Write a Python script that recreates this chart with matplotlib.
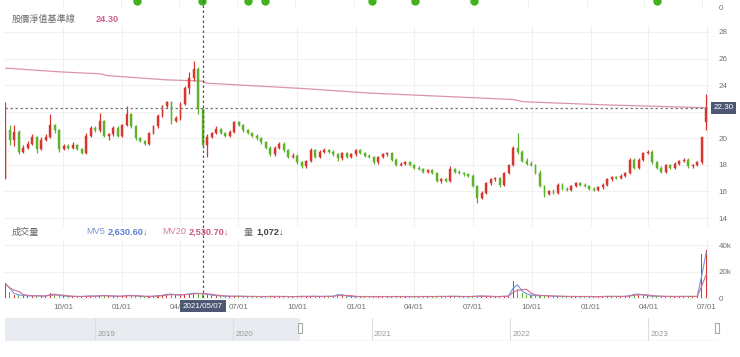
import matplotlib
matplotlib.use('Agg')
import matplotlib.pyplot as plt
import matplotlib.dates as mdates
import matplotlib.transforms as mtransforms
from matplotlib.lines import Line2D
import numpy as np
import pandas as pd

plt.rcParams['font.family'] = ['Liberation Sans', 'Noto Sans CJK TC', 'DejaVu Sans']

# ---------------- data (weekly candles) ----------------
week_start = '2020-07-03'
opens = [17.0, 20.6, 19.9, 20.5, 19.0, 19.3, 19.6, 20.1, 19.2, 19.9,
         20.1, 21.0, 20.6, 19.2, 19.4, 19.3, 19.5, 19.2, 18.9, 20.2,
         20.8, 20.6, 21.3, 20.2, 20.3, 20.8, 20.2, 21.0, 21.8, 20.9,
         20.0, 19.8, 19.6, 20.4, 20.9, 21.7, 22.4, 22.7, 21.3, 21.5,
         22.6, 23.8, 24.5, 25.2, 22.2, 19.5, 20.1, 20.4, 20.7, 20.4,
         20.2, 20.5, 21.2, 21.0, 20.6, 20.4, 20.2, 20.0, 19.7, 19.3,
         18.8, 19.3, 19.6, 19.1, 18.6, 18.7, 18.2, 17.9, 18.3, 19.1,
         18.6, 19.0, 19.1, 19.0, 18.8, 18.5, 18.9, 18.6, 18.8, 19.1,
         18.9, 18.7, 18.6, 18.2, 18.6, 18.8, 18.9, 18.4, 18.0, 18.1,
         18.2, 18.0, 17.8, 17.7, 17.5, 17.6, 17.4, 16.8, 16.9, 16.8,
         17.7, 17.5, 17.4, 17.3, 17.2, 16.4, 15.5, 15.9, 16.6, 16.9,
         17.0, 16.5, 17.4, 18.0, 19.3, 19.0, 18.3, 18.1, 18.0, 17.4,
         16.4, 15.8, 16.0, 15.9, 16.5, 16.2, 16.1, 16.4, 16.6, 16.5,
         16.4, 16.2, 16.1, 16.3, 16.5, 16.9, 17.1, 17.0, 17.2, 17.4,
         18.4, 17.8, 18.4, 18.9, 19.0, 18.2, 17.8, 17.5, 18.0, 17.8,
         18.1, 18.3, 18.4, 17.9, 18.0, 18.2, 21.2]
highs = [22.7, 21.0, 21.0, 20.6, 19.5, 19.8, 20.3, 20.2, 20.1, 20.3,
         21.8, 21.1, 20.7, 19.6, 19.6, 19.7, 19.6, 19.3, 20.4, 20.9,
         20.9, 21.9, 21.4, 20.4, 20.9, 20.9, 21.1, 22.4, 21.9, 21.0,
         20.1, 19.9, 20.5, 21.0, 21.8, 22.5, 22.8, 22.8, 21.7, 22.7,
         23.9, 25.0, 25.8, 25.4, 22.3, 20.3, 20.5, 20.9, 20.8, 20.5,
         20.6, 21.3, 21.3, 21.1, 20.7, 20.5, 20.3, 20.1, 19.8, 19.4,
         19.4, 19.7, 19.7, 19.2, 18.9, 18.8, 18.3, 18.4, 19.3, 19.2,
         19.1, 19.3, 19.2, 19.1, 18.9, 19.0, 19.0, 18.9, 19.2, 19.2,
         19.0, 18.8, 18.7, 18.7, 18.9, 19.0, 19.0, 18.5, 18.2, 18.3,
         18.3, 18.1, 17.9, 17.8, 17.7, 17.7, 17.5, 17.0, 17.0, 17.9,
         17.8, 17.6, 17.5, 17.4, 17.3, 16.5, 16.0, 16.7, 17.0, 17.1,
         17.1, 17.5, 18.1, 19.4, 20.4, 19.1, 18.5, 18.3, 18.1, 17.6,
         16.5, 16.1, 16.2, 16.6, 16.6, 16.3, 16.5, 16.7, 16.7, 16.6,
         16.5, 16.3, 16.4, 16.6, 17.0, 17.2, 17.2, 17.3, 17.5, 18.5,
         18.5, 18.5, 19.0, 19.1, 19.1, 18.3, 17.9, 18.1, 18.1, 18.2,
         18.4, 18.5, 18.5, 18.1, 18.3, 20.1, 23.3]
lows = [16.9, 19.5, 19.4, 18.8, 18.9, 19.2, 19.5, 18.9, 19.1, 19.8,
        20.0, 20.4, 19.0, 19.1, 19.2, 19.2, 19.1, 18.8, 18.8, 20.1,
        20.5, 20.5, 20.1, 19.9, 20.2, 20.1, 20.1, 20.9, 20.8, 19.9,
        19.7, 19.5, 19.5, 20.3, 20.8, 21.6, 22.3, 21.1, 21.2, 21.4,
        22.5, 23.3, 24.3, 21.8, 19.3, 18.6, 20.0, 20.3, 20.3, 20.1,
        20.1, 20.4, 20.9, 20.5, 20.3, 20.1, 19.9, 19.6, 19.2, 18.7,
        18.7, 19.2, 19.0, 18.5, 18.5, 18.1, 17.8, 17.8, 18.2, 18.5,
        18.5, 18.9, 18.9, 18.7, 18.3, 18.4, 18.5, 18.5, 18.7, 18.8,
        18.6, 18.5, 18.1, 18.1, 18.5, 18.7, 18.3, 17.9, 17.9, 18.0,
        17.9, 17.7, 17.6, 17.4, 17.4, 17.3, 16.7, 16.6, 16.7, 16.7,
        17.4, 17.3, 17.2, 17.1, 16.3, 15.1, 15.4, 15.8, 16.5, 16.8,
        16.3, 16.4, 17.3, 17.9, 18.8, 18.2, 18.0, 17.9, 17.3, 16.3,
        15.6, 15.7, 15.8, 15.8, 16.1, 16.0, 16.0, 16.3, 16.4, 16.3,
        16.1, 16.0, 16.0, 16.2, 16.4, 16.8, 16.9, 16.9, 17.1, 17.3,
        17.7, 17.7, 18.3, 18.8, 18.1, 17.7, 17.4, 17.4, 17.7, 17.7,
        18.0, 18.2, 17.8, 17.8, 17.9, 18.1, 20.6]
closes = [20.6, 19.9, 20.5, 19.0, 19.3, 19.6, 20.1, 19.2, 19.9, 20.1,
          21.0, 20.6, 19.2, 19.4, 19.3, 19.5, 19.2, 18.9, 20.2, 20.8,
          20.6, 21.3, 20.2, 20.3, 20.8, 20.2, 21.0, 21.8, 20.9, 20.0,
          19.8, 19.6, 20.4, 20.9, 21.7, 22.4, 22.7, 21.3, 21.5, 22.6,
          23.8, 24.5, 25.2, 22.2, 19.5, 20.1, 20.4, 20.7, 20.4, 20.2,
          20.5, 21.2, 21.0, 20.6, 20.4, 20.2, 20.0, 19.7, 19.3, 18.8,
          19.3, 19.6, 19.1, 18.6, 18.7, 18.2, 17.9, 18.3, 19.1, 18.6,
          19.0, 19.1, 19.0, 18.8, 18.5, 18.9, 18.6, 18.8, 19.1, 18.9,
          18.7, 18.6, 18.2, 18.6, 18.8, 18.9, 18.4, 18.0, 18.1, 18.2,
          18.0, 17.8, 17.7, 17.5, 17.6, 17.4, 16.8, 16.9, 16.8, 17.7,
          17.5, 17.4, 17.3, 17.2, 16.4, 15.5, 15.9, 16.6, 16.9, 17.0,
          16.5, 17.4, 18.0, 19.3, 19.0, 18.3, 18.1, 18.0, 17.4, 16.4,
          15.8, 16.0, 15.9, 16.5, 16.2, 16.1, 16.4, 16.6, 16.5, 16.4,
          16.2, 16.1, 16.3, 16.5, 16.9, 17.1, 17.0, 17.2, 17.4, 18.4,
          17.8, 18.4, 18.9, 19.0, 18.2, 17.8, 17.5, 18.0, 17.8, 18.1,
          18.3, 18.4, 17.9, 18.0, 18.2, 20.1, 22.3]
volumes = [11000, 4200, 2600, 2100, 1800, 1500, 1600, 1700, 1400, 1500,
           3500, 2400, 1700, 1300, 1200, 1200, 1100, 1200, 1500, 1600,
           1300, 2000, 1900, 1400, 1300, 1200, 1500, 2300, 1800, 1400,
           1200, 1100, 1300, 1500, 1900, 2300, 3200, 2700, 2000, 2400,
           2900, 3400, 3800, 3300, 3000, 2500, 2000, 1600, 1400, 1300,
           1200, 1500, 1300, 1200, 1100, 1200, 1100, 1000, 1200, 1300,
           1100, 1200, 1100, 1000, 1100, 1200, 1300, 1100, 1400, 1200,
           1100, 1300, 1200, 1500, 3200, 1800, 1200, 1100, 1000, 1100,
           1200, 1100, 1000, 1100, 1200, 1000, 1100, 1200, 1000, 1100,
           1000, 1100, 1000, 1200, 1100, 1000, 1300, 1200, 1100, 1400,
           1200, 1100, 1000, 1100, 1300, 1600, 1400, 1200, 1100, 1000,
           1200, 1400, 1600, 13000, 7000, 3600, 2600, 1900, 1600, 2000,
           1700, 1400, 1200, 1300, 1100, 1200, 1100, 1000, 1100, 1200,
           1100, 1000, 1100, 1200, 1300, 1200, 1100, 1200, 1400, 2200,
           3400, 2600, 1800, 1500, 1400, 1300, 1200, 1100, 1200, 1100,
           1200, 1300, 1100, 1200, 1300, 33000, 36000]

# 股價淨值基準線 (book-value reference line)
base_dates = ['2020-07-03', '2020-09-26', '2020-11-28', '2020-12-09', '2021-03-10',
              '2021-04-28', '2021-05-07', '2021-05-12', '2021-10-08', '2022-01-22',
              '2022-09-02', '2022-09-18', '2023-01-20', '2023-06-30']
base_values = [25.28, 25.0, 24.85, 24.72, 24.4, 24.32, 24.30, 24.15, 23.75, 23.4,
               22.92, 22.75, 22.52, 22.3]

# markers of the panel above (only their lower edge is visible)
top_marker_dates = ['2021-01-26', '2021-05-07', '2021-07-19', '2021-08-15',
                    '2022-01-30', '2022-04-07', '2022-07-09', '2023-04-22']

price_ticks = [14, 16, 18, 20, 22, 24, 26, 28]
price_tick_labels = ['14', '16', '18', '20', '', '24', '26', '28']
vol_ticks = [0, 20000, 40000]
vol_tick_labels = ['0', '20k', '40k']
quarter_ticks = ['2020-10-01', '2021-01-01', '2021-04-01', '2021-07-01', '2021-10-01',
                 '2022-01-01', '2022-04-01', '2022-07-01', '2022-10-01', '2023-01-01',
                 '2023-04-01', '2023-07-01']
nav_years = ['2019', '2020', '2021', '2022', '2023']
nav_sel_start = '2020-06-26'
hover_date = '2021-05-07'
last_close = 22.30
hover_base = '24.30'
mv5_text, mv20_text, vol_text = '2,630.60↓', '2,530.70↓', '1,072↓'

# ---------------- figure ----------------
W, H = 740, 357
fig = plt.figure(figsize=(W / 100, H / 100), dpi=100)


def ax_px(x0, y0, x1, y1):
    return fig.add_axes([x0 / W, 1 - y1 / H, (x1 - x0) / W, (y1 - y0) / H])


dates = pd.date_range(week_start, periods=len(closes), freq='7D')
dn = mdates.date2num(dates)
o = np.array(opens); h = np.array(highs); l = np.array(lows); c = np.array(closes)
up = c >= o
RED, GREEN = '#d8352f', '#5eb22c'
cols = np.where(up, RED, GREEN)

d_ref = mdates.date2num(pd.Timestamp('2020-10-01'))
xlim = (d_ref - 90.3, d_ref + 1007.8)
qt = mdates.date2num(pd.to_datetime(quarter_ticks))
GRID = '#f0f0f0'
TXT = '#707070'
FS = 5.8


def clean(ax):
    for s in ax.spines.values():
        s.set_visible(False)
    ax.tick_params(length=0, labelsize=FS, colors=TXT)
    ax.set_xlim(*xlim)


# top strip
ax_top = ax_px(5, 0, 705, 8)
clean(ax_top)
ax_top.set_ylim(0, 1)
ax_top.set_xticks(qt)
ax_top.set_xticklabels([])
ax_top.yaxis.tick_right()
ax_top.set_yticks([0])
ax_top.set_yticklabels(['0'])
ax_top.tick_params(axis='y', pad=10)
ax_top.grid(True, color=GRID, lw=0.8)
ax_top.plot(mdates.date2num(pd.to_datetime(top_marker_dates)), [0.9] * len(top_marker_dates),
            'o', color='#3fb21c', ms=6, mec='none', clip_on=True)

# main price axes
ax = ax_px(5, 26, 710, 226)
clean(ax)
ax.set_ylim(13.4, 28.45)
ax.yaxis.tick_right()
ax.set_yticks(price_ticks)
ax.set_yticklabels(price_tick_labels)
ax.tick_params(axis='y', pad=6)
ax.set_xticks(qt)
ax.set_xticklabels([])
ax.grid(True, color=GRID, lw=0.8)
ax.vlines(dn, l, h, colors=cols, lw=0.9, zorder=3)
body = np.where(np.abs(c - o) < 0.05, 0.05, c - o)
ax.bar(dn, body, bottom=o, width=3.0, color=cols, edgecolor=cols, lw=0.3, zorder=4)
ax.plot(mdates.date2num(pd.to_datetime(base_dates)), base_values, color='#dc93aa', lw=0.9, zorder=2)
ax.axhline(last_close, color='#7a7a7a', ls=(0, (2, 2)), lw=0.9, zorder=5)
ax.text(1.005, last_close, f'{last_close:.2f}',
        transform=mtransforms.blended_transform_factory(ax.transAxes, ax.transData),
        ha='left', va='center', fontsize=FS, color='white', zorder=10,
        bbox=dict(boxstyle='square,pad=0.3', fc='#4d5874', ec='none'))

# volume axes
axv = ax_px(5, 240, 710, 300)
clean(axv)
axv.set_ylim(-1500, 43800)
axv.yaxis.tick_right()
axv.set_yticks(vol_ticks)
axv.set_yticklabels(vol_tick_labels)
axv.tick_params(axis='y', pad=6)
axv.tick_params(axis='x', pad=3)
axv.set_xticks(qt)
axv.set_xticklabels(pd.to_datetime(quarter_ticks).strftime('%m/%d'))
axv.grid(True, color=GRID, lw=0.8)
vol = pd.Series(volumes, dtype=float)
axv.bar(dn, vol, width=1.6, color=cols, zorder=3)
axv.plot(dn, vol.rolling(2, min_periods=1).mean(), color='#7393dc', lw=0.8, zorder=4)
axv.plot(dn, vol.rolling(4, min_periods=1).mean(), color='#d36f93', lw=0.8, zorder=5)

# crosshair
hd = mdates.date2num(pd.Timestamp(hover_date))
bt = mtransforms.blended_transform_factory(ax.transData, fig.transFigure)
fig.add_artist(Line2D([hd, hd], [1.0, 1 - 300 / H], transform=bt, color='#555555',
                      ls=(0, (2, 2)), lw=0.9, zorder=6))
fig.text(hd, 1 - 306 / H, pd.Timestamp(hover_date).strftime('%Y/%m/%d'), transform=bt,
         ha='center', va='center', fontsize=FS, color='white', zorder=10,
         bbox=dict(boxstyle='square,pad=0.35', fc='#4d5874', ec='none'))

# header texts
HF = 6.6
fig.text(12 / W, 1 - 19 / H, '股價淨值基準線', fontsize=HF, color='#6a6a6a', va='center')
fig.text(96 / W, 1 - 19 / H, hover_base, fontsize=HF, color='#d0608e', va='center', fontweight='bold')
fig.text(12 / W, 1 - 232 / H, '成交量', fontsize=HF, color='#6a6a6a', va='center')
fig.text(86 / W, 1 - 232 / H, 'MV5', fontsize=HF, color='#7b95d8', va='center')
fig.text(108 / W, 1 - 232 / H, mv5_text, fontsize=HF, color='#5b7fcf', va='center', fontweight='bold')
fig.text(162 / W, 1 - 232 / H, 'MV20', fontsize=HF, color='#d57d9a', va='center')
fig.text(189 / W, 1 - 232 / H, mv20_text, fontsize=HF, color='#c9577f', va='center', fontweight='bold')
fig.text(244 / W, 1 - 232 / H, '量', fontsize=HF, color='#6a6a6a', va='center')
fig.text(256 / W, 1 - 232 / H, vol_text, fontsize=HF, color='#444444', va='center', fontweight='bold')

# navigator
axn = ax_px(5, 318, 717, 341)
n19 = mdates.date2num(pd.Timestamp('2019-01-01'))
n23 = mdates.date2num(pd.Timestamp('2023-01-01'))
nav_lim = (n19 - 237.8, n23 + 182.3)
axn.set_xlim(*nav_lim)
axn.set_ylim(0, 1)
for s in axn.spines.values():
    s.set_visible(False)
axn.set_xticks([]); axn.set_yticks([])
sel = mdates.date2num(pd.Timestamp(nav_sel_start))
axn.axvspan(nav_lim[0], sel, color='#e8ebef', lw=0, zorder=1)
axn.plot([sel, nav_lim[1]], [0.02, 0.02], color='#d5d5d5', lw=1, zorder=2)
for yr in nav_years:
    yd = mdates.date2num(pd.Timestamp(f'{yr}-01-01'))
    axn.axvline(yd, color='#dddddd', lw=0.8, zorder=2)
    axn.text(yd + 6, 0.3, yr, fontsize=FS, color='#999999', va='center', ha='left')
handle = [(-1, -2.5), (1, -2.5), (1, 2.5), (-1, 2.5), (-1, -2.5)]
axn.plot([sel, nav_lim[1]], [0.55, 0.55], ls='none', marker=handle, ms=7, mfc='white',
         mec='#aaaaaa', mew=0.8, clip_on=False, zorder=5)

fig.savefig('out.png', dpi=100)
